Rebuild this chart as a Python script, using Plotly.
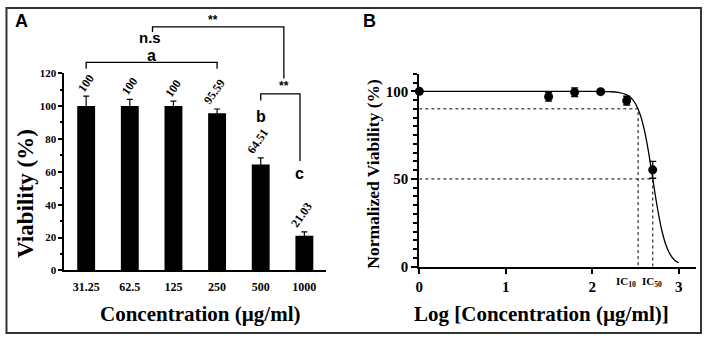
import plotly.graph_objects as go

# ---------------- data ----------------
conc_labels = ["31.25", "62.5", "125", "250", "500", "1000"]
viability = [100, 100, 100, 95.59, 64.51, 21.03]
viability_err = [6.0, 4.0, 3.0, 2.6, 4.0, 2.4]
value_labels = ["100", "100", "100", "95.59", "64.51", "21.03"]

log_conc = [0, 1.495, 1.796, 2.097, 2.398, 2.699]
norm_viab = [100, 96.9, 99.5, 99.8, 94.7, 55.2]
norm_err = [0.8, 2.5, 2.5, 1.0, 2.5, 4.8]

fit_x = [0, 0.5, 1.0, 1.5, 2.0, 2.2, 2.3, 2.4, 2.45, 2.5, 2.55, 2.6, 2.65, 2.7,
         2.75, 2.8, 2.85, 2.9, 2.95, 3.0]
fit_y = [100, 100, 100, 100, 100, 99.8, 99.4, 98.0, 96.2, 92.9, 87.4, 78.4, 65.6, 50,
         34.4, 21.6, 12.6, 7.0, 3.8, 2.2]

ic_log = [2.53, 2.70]
ic_level = [90, 50]
ic_names = ["IC<sub>10</sub>", "IC<sub>50</sub>"]

A_yticks = [0, 20, 40, 60, 80, 100, 120]
B_xticks = [0, 1, 2, 3]
B_yticks = [0, 50, 100]

A_ymax = 120
B_ymax = 110
B_xmax = 3.2

SERIF = "Liberation Serif"
SANS = "Liberation Sans"

# domains (paper)
AX = [0.0861, 0.4596]
AY = [0.1962, 0.7959]
BX = [0.5925, 0.9872]
BY = [0.2079, 0.7939]


def ya(v):
    return AY[0] + v / A_ymax * (AY[1] - AY[0])


def b(t):
    return "<b>%s</b>" % t


fig = go.Figure()

# Panel A bars
fig.add_trace(go.Bar(
    x=conc_labels, y=viability, width=0.41,
    marker=dict(color="black", line=dict(width=0)),
    error_y=dict(type="data", array=viability_err, visible=True,
                 color="black", thickness=1.2, width=3),
    xaxis="x", yaxis="y", showlegend=False,
))

# Panel B fit curve
fig.add_trace(go.Scatter(
    x=fit_x, y=fit_y, mode="lines", line=dict(color="black", width=1.3, shape="spline"),
    xaxis="x2", yaxis="y2", showlegend=False, hoverinfo="skip",
))

# IC dashed guide lines
for lx, lv in zip(ic_log, ic_level):
    fig.add_trace(go.Scatter(
        x=[0, lx, lx], y=[lv, lv, 0], mode="lines",
        line=dict(color="black", width=1, dash="dot"),
        xaxis="x2", yaxis="y2", showlegend=False, hoverinfo="skip",
    ))

# Panel B points
fig.add_trace(go.Scatter(
    x=log_conc, y=norm_viab, mode="markers",
    marker=dict(color="black", size=9),
    error_y=dict(type="data", array=norm_err, visible=True,
                 color="black", thickness=1.3, width=3.5),
    xaxis="x2", yaxis="y2", showlegend=False, cliponaxis=False,
))

annotations = []
shapes = []

# value labels above bars
for i, (lab, v, e) in enumerate(zip(value_labels, viability, viability_err)):
    annotations.append(dict(
        x=i, y=ya(v + e), xref="x", yref="paper", text=b(lab),
        showarrow=False, textangle=-55, xanchor="center", yanchor="middle",
        yshift=13 if len(lab) <= 3 else 17, xshift=0 if len(lab) <= 3 else -3,
        font=dict(family=SERIF, size=12, color="black"),
    ))


def bracket(x0, x1, ytop, yl, yr):
    shapes.append(dict(type="path", xref="x", yref="paper",
                       path="M %s,%s L %s,%s L %s,%s L %s,%s" % (
                           x0, ya(yl), x0, ya(ytop), x1, ya(ytop), x1, ya(yr)),
                       line=dict(color="black", width=1.3)))


bracket(0, 3, 126.5, 122.6, 122.6)
bracket(1.52, 4.53, 148.1, 145.0, 116.7)
bracket(4.0, 4.9, 107.4, 103.4, 66.6)


def stext(x, y, t, size):
    annotations.append(dict(x=x, y=ya(y), xref="x", yref="paper", text=b(t),
                            showarrow=False, xanchor="center", yanchor="middle",
                            font=dict(family=SANS, size=size, color="black")))


stext(1.5, 130.9, "a", 16)
stext(1.47, 141.8, "n.s", 15)
stext(2.91, 152.6, "**", 12)
stext(4.53, 112.4, "**", 12)
stext(4.0, 93.9, "b", 16)
stext(4.89, 58.9, "c", 16)

# IC labels
annotations.append(dict(x=ic_log[0], y=0, xref="x2", yref="y2", text=b(ic_names[0]),
                        showarrow=False, xanchor="right", yanchor="top", yshift=-6, xshift=0,
                        font=dict(family=SERIF, size=11, color="black")))
annotations.append(dict(x=ic_log[1], y=0, xref="x2", yref="y2", text=b(ic_names[1]),
                        showarrow=False, xanchor="center", yanchor="top", yshift=-6, xshift=-1,
                        font=dict(family=SERIF, size=11, color="black")))

# panel letters
annotations.append(dict(x=18 / 705, y=1 - 16 / 343, xref="paper", yref="paper", text=b("A"),
                        showarrow=False, xanchor="center", yanchor="middle",
                        font=dict(family=SANS, size=18, color="black")))
annotations.append(dict(x=368 / 705, y=1 - 16 / 343, xref="paper", yref="paper", text=b("B"),
                        showarrow=False, xanchor="center", yanchor="middle",
                        font=dict(family=SANS, size=18, color="black")))

# axis titles
annotations.append(dict(x=197 / 705, y=1 - 321.5 / 343, xref="paper", yref="paper",
                        text=b("Concentration (µg/ml)"), showarrow=False,
                        xanchor="center", yanchor="middle",
                        font=dict(family=SERIF, size=21, color="black")))
annotations.append(dict(x=541 / 705, y=1 - 321.5 / 343, xref="paper", yref="paper",
                        text=b("Log [Concentration (µg/ml)]"), showarrow=False,
                        xanchor="center", yanchor="middle",
                        font=dict(family=SERIF, size=21, color="black")))
annotations.append(dict(x=21 / 705, y=1 - 195 / 343, xref="paper", yref="paper",
                        text=b("Viability (%)"), showarrow=False, textangle=-90,
                        xanchor="center", yanchor="middle",
                        font=dict(family=SERIF, size=23, color="black")))
annotations.append(dict(x=371 / 705, y=1 - 175 / 343, xref="paper", yref="paper",
                        text=b("Normalized Viability (%)"), showarrow=False, textangle=-90,
                        xanchor="center", yanchor="middle",
                        font=dict(family=SERIF, size=17.5, color="black")))

# outer frame
shapes.append(dict(type="rect", xref="paper", yref="paper",
                   x0=2.5 / 705, x1=701 / 705, y0=1 - 341 / 343, y1=1 - 2 / 343,
                   line=dict(color="#333333", width=2)))

fig.update_layout(
    width=705, height=343,
    margin=dict(l=0, r=0, t=0, b=0),
    paper_bgcolor="white", plot_bgcolor="white",
    font=dict(family=SERIF, color="black"),
    xaxis=dict(domain=AX, range=[-0.5, 5.5], type="category",
               tickvals=conc_labels, ticktext=[b(c) for c in conc_labels],
               showline=True, linecolor="black", linewidth=2, showgrid=False,
               ticks="", ticklabelstandoff=4,
               tickfont=dict(family=SERIF, size=12, color="black"),
               anchor="y", zeroline=False),
    yaxis=dict(domain=AY, range=[0, A_ymax], tickvals=A_yticks,
               ticktext=[b(t) for t in A_yticks],
               showline=True, linecolor="black", linewidth=2, showgrid=False,
               ticks="outside", ticklen=4, tickwidth=1.5, tickcolor="black",
               minor=dict(dtick=10, ticks="outside", ticklen=2, tickcolor="black"),
               tickfont=dict(family=SERIF, size=11, color="black"),
               anchor="x", zeroline=False),
    xaxis2=dict(domain=BX, range=[0, B_xmax], tickvals=B_xticks,
                ticktext=[b(t) for t in B_xticks],
                showline=True, linecolor="black", linewidth=2, showgrid=False,
                ticks="outside", ticklen=5, tickwidth=2, tickcolor="black",
                tickfont=dict(family=SERIF, size=15, color="black"),
                anchor="y2", zeroline=False),
    yaxis2=dict(domain=BY, range=[0, B_ymax], tickvals=B_yticks,
                ticktext=[b(t) for t in B_yticks],
                showline=True, linecolor="black", linewidth=2, showgrid=False,
                ticks="outside", ticklen=6, tickwidth=2, tickcolor="black",
                minor=dict(dtick=5, ticks="outside", ticklen=4, tickwidth=1.5, tickcolor="black"),
                tickfont=dict(family=SERIF, size=15, color="black"),
                anchor="x2", zeroline=False),
    annotations=annotations,
    shapes=shapes,
)

fig.write_html("out.html")
